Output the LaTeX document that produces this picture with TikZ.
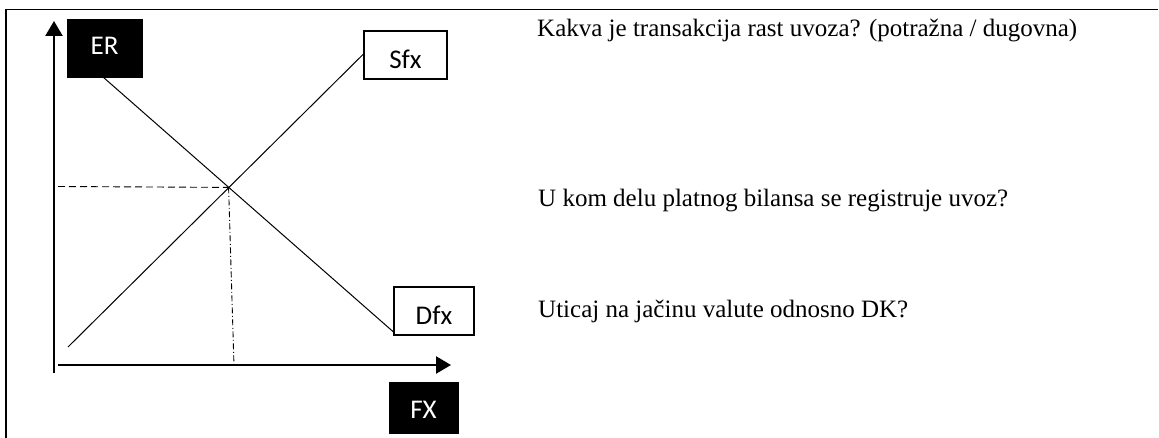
\documentclass[tikz,border=0pt]{standalone}
\usepackage{fontspec}
\setmainfont{Liberation Serif}
\newfontfamily\labelfont{Carlito}
\usetikzlibrary{arrows.meta}
\begin{document}
\begin{tikzpicture}[x=1pt,y=-1pt,
  frame/.style={line width=1.8pt},
  axis/.style={line width=2.4pt,-{Triangle[length=15pt,width=17pt]}},
  curve/.style={line width=1pt},
  guide/.style={line width=0.9pt,dash pattern=on 7pt off 4pt},
  guidedot/.style={line width=0.9pt,dash pattern=on 6pt off 2.5pt on 1pt off 2.5pt},
  labelbase/.style={font=\labelfont\fontsize{27}{32}\selectfont,inner sep=0pt,text depth=0pt},
  blackbox/.style={labelbase,fill=black,draw=black,text=white},
  whitebox/.style={labelbase,fill=white,draw=black,line width=1.6pt},
  qtext/.style={font=\fontsize{25}{30}\selectfont,inner sep=0pt,anchor=base west}
]
\useasboundingbox (0,0) rectangle (1159,438);
\draw[frame] (6,438) -- (6,9.5) -- (1158,9.5);

% axes
\coordinate (ybot) at (54,373);
\coordinate (ytop) at (54,21);
\coordinate (xl) at (58,365);
\coordinate (xr) at (451,365);
\draw[axis] (ybot) -- (ytop);
\draw[axis] (xl) -- (xr);

% boxes
\node[blackbox,text height=13pt,minimum width=75pt,minimum height=58pt] (er) at (104.5,48) {ER};
\node[whitebox,text height=27pt,minimum width=83pt,minimum height=48pt] (sfx) at (405.5,55) {Sfx};
\node[whitebox,text height=27pt,minimum width=80pt,minimum height=48pt] (dfx) at (434,311) {Dfx};
\node[blackbox,text height=22pt,minimum width=69pt,minimum height=51pt] (fx) at (423.5,407.5) {FX};

% curves
\coordinate (d0) at (103,77);
\coordinate (d1) at (393.5,332);
\coordinate (s0) at (68,347);
\coordinate (s1) at (364.5,53);
\coordinate (eq) at (228.6,187.4);
\coordinate (eqy) at (58,186.5);
\coordinate (eqx) at (234,366);
\draw[curve] (d0) -- (d1);
\draw[curve] (s0) -- (s1);
\draw[guide] (eqy) -- (eq);
\draw[guidedot] (eq) -- (eqx);

% questions
\node[qtext] (q1) at (537,37) {Kakva je transakcija rast uvoza? (potražna / dugovna)};
\node[qtext] (q2) at (538,207) {U kom delu platnog bilansa se registruje uvoz?};
\node[qtext] (q3) at (538,317) {Uticaj na jačinu valute odnosno DK?};
\end{tikzpicture}
\end{document}
